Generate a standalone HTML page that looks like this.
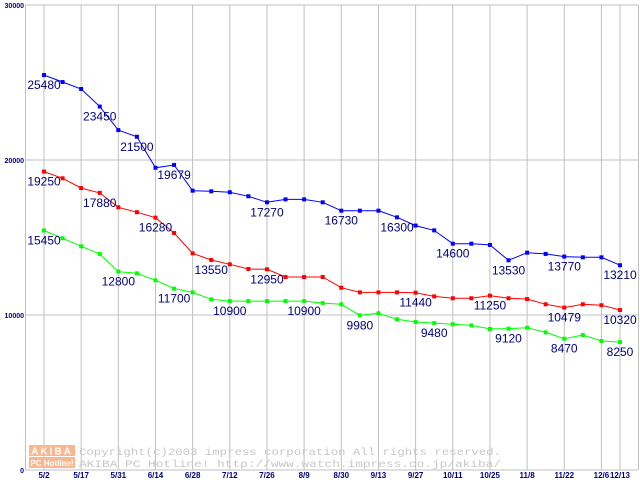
<!DOCTYPE html>
<html><head><meta charset="utf-8"><style>
body{margin:0;background:#fff;width:640px;height:480px;overflow:hidden}
svg{display:block}
</style></head><body>
<svg id="chart" width="640" height="480" xmlns="http://www.w3.org/2000/svg" font-family="Liberation Sans, sans-serif">
<rect x="0" y="0" width="640" height="480" fill="#fff"/>
<g id="grid"></g>
<g id="wm">
 <rect x="29" y="445" width="46" height="11" fill="#f9b78f"/>
 <text x="52" y="454.5" font-size="10" fill="#fff" text-anchor="middle" font-weight="bold" letter-spacing="2">AKIBA</text>
 <rect x="29" y="457" width="46" height="11" fill="#f9b78f"/>
 <text x="52" y="466" font-size="8" fill="#fff" text-anchor="middle" font-weight="bold">PC Hotline!</text>
 <text x="79" y="455" font-size="10.5" fill="#c8c8c8" font-family="Liberation Mono, monospace" textLength="422" lengthAdjust="spacingAndGlyphs">Copyright(c)2003 impress corporation All rights reserved.</text>
 <text x="79" y="467" font-size="10.5" fill="#c8c8c8" font-family="Liberation Mono, monospace" textLength="422" lengthAdjust="spacingAndGlyphs">AKIBA PC Hotline!  http://www.watch.impress.co.jp/akiba/</text>
</g>
<g id="series"></g>
<g id="labels"></g>
</svg>
<script>
const xLabels = ["5/2","5/17","5/31","6/14","6/28","7/12","7/26","8/9","8/30","9/13","9/27","10/11","10/25","11/8","11/22","12/6","12/13"];
const xLabelIdx = [0,2,4,6,8,10,12,14,16,18,20,22,24,26,28,30,31];
const yTicks = [0,10000,20000,30000];
const blue = [25480,25030,24580,23450,21930,21500,19500,19679,18020,17980,17920,17660,17270,17460,17460,17270,16730,16730,16730,16300,15770,15460,14600,14600,14520,13530,14020,13940,13770,13720,13720,13210];
const red = [19250,18820,18190,17880,16950,16630,16280,15290,13980,13550,13270,12970,12950,12450,12450,12450,11760,11460,11460,11460,11440,11200,11080,11080,11250,11080,11030,10690,10479,10690,10630,10320];
const green = [15450,14950,14430,13940,12800,12690,12240,11700,11460,11010,10900,10900,10900,10900,10900,10770,10690,9980,10110,9720,9550,9480,9400,9330,9100,9120,9180,8880,8470,8710,8320,8250];
const blueLabelIdx = [0,3,5,7,12,16,19,22,25,28,31];
const redLabelIdx = [0,3,6,9,12,20,24,28,31];
const greenLabelIdx = [0,4,7,10,14,17,21,25,28,31];

const NS="http://www.w3.org/2000/svg";
const X0=44, X1=620, N=31, YB=470, YT=5, YMAX=30000;
function xs(i){return X0+(X1-X0)*i/N;}
function ys(v){return YB-(YB-YT)*v/YMAX;}
function mk(tag,attrs,parent){const e=document.createElementNS(NS,tag);for(const k in attrs)e.setAttribute(k,attrs[k]);parent.appendChild(e);return e;}
const grid=document.getElementById('grid');
yTicks.forEach(t=>{
  const l=mk('line',{x1:25,x2:638,y1:ys(t),y2:ys(t),stroke:'#c0c0c0','stroke-width':1},grid);
  
  
  const tx=mk('text',{x:24,y:ys(t)+3,'font-size':7,'font-weight':'bold',fill:'#000080','text-anchor':'end'},grid);
  tx.textContent=t;
  
  
});
xLabelIdx.forEach((idx,k)=>{
  const x=xs(idx);
  const l=mk('line',{x1:x,x2:x,y1:YT,y2:YB,stroke:'#c0c0c0','stroke-width':1},grid);
  
  
  const tx=mk('text',{x:x,y:478,'font-size':8,'font-weight':'bold',fill:'#000080','text-anchor':'middle'},grid);
  tx.textContent=xLabels[k];
  
  
});
const ax=mk('line',{x1:25.5,x2:25.5,y1:YT,y2:YB,stroke:'#c0c0c0','stroke-width':1},grid);


const rb=mk('line',{x1:638.5,x2:638.5,y1:YT,y2:YB,stroke:'#c0c0c0','stroke-width':1},grid);



const sg=document.getElementById('series'), lg=document.getElementById('labels');
function drawSeries(vals,color,name,labIdx){
  const pts=vals.map((v,i)=>xs(i).toFixed(1)+','+ys(v).toFixed(1)).join(' ');
  const pl=mk('polyline',{points:pts,fill:'none',stroke:color,'stroke-width':1},sg);
  
  
  vals.forEach((v,i)=>{
    const r=mk('rect',{x:xs(i)-2,y:ys(v)-2,width:4,height:4,fill:color},sg);
    
    
  });
  labIdx.forEach(i=>{
    const t=mk('text',{x:xs(i),y:ys(vals[i])+14,'font-size':12,fill:'#000080','text-anchor':'middle'},lg);
    t.textContent=vals[i];
    
    
  });
}
drawSeries(blue,'#0000ff','blue-series',blueLabelIdx);
drawSeries(red,'#ff0000','red-series',redLabelIdx);
drawSeries(green,'#00ff00','green-series',greenLabelIdx);
</script>
</body></html>
